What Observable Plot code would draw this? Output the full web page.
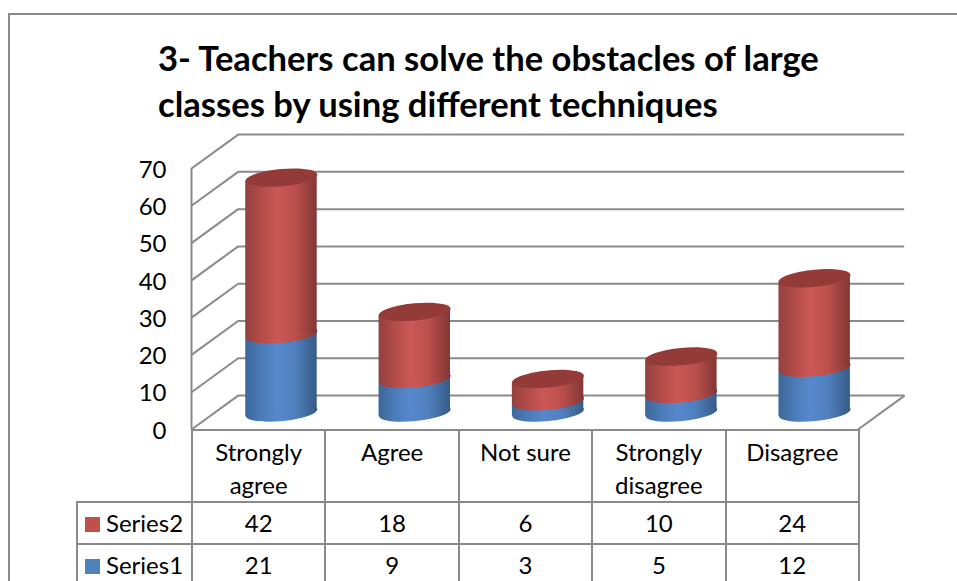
<!DOCTYPE html>
<html><head><meta charset="utf-8">
<script src="https://cdn.jsdelivr.net/npm/d3@7"></script>
<script src="https://cdn.jsdelivr.net/npm/@observablehq/plot@0.6"></script>
<style>
html,body{margin:0;padding:0;background:#fff;width:957px;height:581px;overflow:hidden;}
body{position:relative;font-family:Lato,sans-serif;color:#000;}
#frame{position:absolute;left:8px;top:13px;right:-5px;bottom:-5px;border-top:2px solid #8a8a8a;border-left:2px solid #8a8a8a;pointer-events:none;}
#title{position:relative;margin:0;padding:35px 0 0 158px;height:91px;line-height:46px;font-size:34.6px;font-weight:700;white-space:nowrap;}
#chart{height:304px;}
#chart svg{display:block;font-family:Lato,sans-serif;overflow:visible;}
#tbl{position:relative;margin-left:76px;margin-top:-1px;border-collapse:collapse;table-layout:fixed;width:782px;font-size:24px;line-height:1;}
#tbl td{border:2px solid #8a8a8a;text-align:center;padding:0;overflow:hidden;}
#tbl td.blank{border:none;border-right:2px solid #8a8a8a;}
#tbl tr.h td{vertical-align:top;line-height:33px;padding-top:4px;box-sizing:border-box;height:72px;}
#tbl tr.v td{height:40px;}
#tbl td.s{text-align:left;padding-left:7px;white-space:nowrap;}
.sw{display:inline-block;width:15px;height:15px;margin-right:6px;}
</style></head>
<body>
<div id="frame"></div>
<h1 id="title">3- Teachers can solve the obstacles of large<br>classes by using different techniques</h1>
<div id="chart"></div>
<table id="tbl"></table>
<script>
const categories = ["Strongly\nagree","Agree","Not sure","Strongly\ndisagree","Disagree"];
const series1 = [21,9,3,5,12];
const series2 = [42,18,6,10,24];
const yTicks = [0,10,20,30,40,50,60,70];
const lineColor = "#8a8a8a";

// depth of the 3D box, expressed in scale units
const depthX = 0.35, depthY = 9.1;
const halfW = 0.268, tilt = 0.9;

const ellipse = {draw(ctx){
  const rx=36, ry=8.6, a=-5.5*Math.PI/180, k=0.5523;
  const P=(u,v)=>[u*rx*Math.cos(a)-v*ry*Math.sin(a), u*rx*Math.sin(a)+v*ry*Math.cos(a)];
  ctx.moveTo(...P(1,0));
  ctx.bezierCurveTo(...P(1,k),...P(k,1),...P(0,1));
  ctx.bezierCurveTo(...P(-k,1),...P(-1,k),...P(-1,0));
  ctx.bezierCurveTo(...P(-1,-k),...P(-k,-1),...P(0,-1));
  ctx.bezierCurveTo(...P(k,-1),...P(1,-k),...P(1,0));
  ctx.closePath();
}};

const cx = i => i + 0.5 + depthX/2;
const base = depthY/2;
const bodyPts = (lo, hi) => categories.flatMap((c,i)=>[
  {c, x:cx(i)-halfW, y1:base+lo[i]-tilt, y2:base+hi[i]-tilt},
  {c, x:cx(i)+halfW, y1:base+lo[i]+tilt, y2:base+hi[i]+tilt}
]);
const zeros = series1.map(()=>0);
const stack = series1.map((v,i)=>v+series2[i]);
const ends = vals => vals.map((v,i)=>({x:cx(i), y:base+v}));

const plot = Plot.plot({
  width:957, height:304,
  marginLeft:191, marginRight:99.5, marginTop:42, marginBottom:1,
  x:{domain:[0,5], axis:null},
  y:{domain:[0,70], axis:null},
  style:{overflow:"visible"},
  marks:[
    Plot.ruleY(yTicks,{y:d=>d+depthY, x1:depthX, x2:5+depthX, stroke:lineColor, strokeWidth:2}),
    Plot.link(yTicks,{x1:0,y1:d=>d,x2:depthX,y2:d=>d+depthY, stroke:lineColor, strokeWidth:2}),
    Plot.link([0],{x1:5,y1:0,x2:5+depthX,y2:depthY, stroke:lineColor, strokeWidth:2}),
    Plot.ruleX([0],{y1:0,y2:70, stroke:lineColor, strokeWidth:2}),
    Plot.axisY({ticks:yTicks, tickSize:0, tickPadding:25, fontSize:24, label:null, fill:"#000", dy:1.5}),
    Plot.dot(ends(zeros),{x:"x",y:"y",symbol:ellipse,r:3,fill:"url(#gBlue)"}),
    Plot.areaY(bodyPts(zeros,series1),{x:"x",y1:"y1",y2:"y2",z:"c",fill:"url(#gBlue)"}),
    Plot.dot(ends(series1),{x:"x",y:"y",symbol:ellipse,r:3,fill:"url(#gRed)"}),
    Plot.areaY(bodyPts(series1,stack),{x:"x",y1:"y1",y2:"y2",z:"c",fill:"url(#gRed)"}),
    Plot.dot(ends(stack),{x:"x",y:"y",symbol:ellipse,r:3,fill:"#943b39"})
  ]
});
d3.select(plot).append("defs").html(`
<linearGradient id="gRed" x1="0" x2="1" y1="0" y2="0">
<stop offset="0" stop-color="#93403e"/><stop offset="0.2" stop-color="#b04b49"/><stop offset="0.45" stop-color="#cc5856"/><stop offset="0.7" stop-color="#bb4f4c"/><stop offset="1" stop-color="#813735"/></linearGradient>
<linearGradient id="gBlue" x1="0" x2="1" y1="0" y2="0">
<stop offset="0" stop-color="#3d6697"/><stop offset="0.2" stop-color="#4a7ab5"/><stop offset="0.45" stop-color="#5688cd"/><stop offset="0.7" stop-color="#4f7fbd"/><stop offset="1" stop-color="#365b86"/></linearGradient>`);
document.getElementById("chart").append(plot);

const tbl = d3.select("#tbl");
const cg = tbl.append("colgroup");
cg.append("col").style("width","115px");
categories.forEach(()=>cg.append("col").style("width","133.4px"));
const h = tbl.append("tr").attr("class","h");
h.append("td").attr("class","blank");
categories.forEach(c=>h.append("td").html(c.replace("\n","<br>")));
[["Series2",series2,"#c0504d"],["Series1",series1,"#4f81bd"]].forEach(([n,vals,col])=>{
  const r = tbl.append("tr").attr("class","v");
  const s = r.append("td").attr("class","s");
  s.append("span").attr("class","sw").style("background",col);
  s.append("span").text(n);
  vals.forEach(v=>r.append("td").text(v));
});
</script>
</body></html>
